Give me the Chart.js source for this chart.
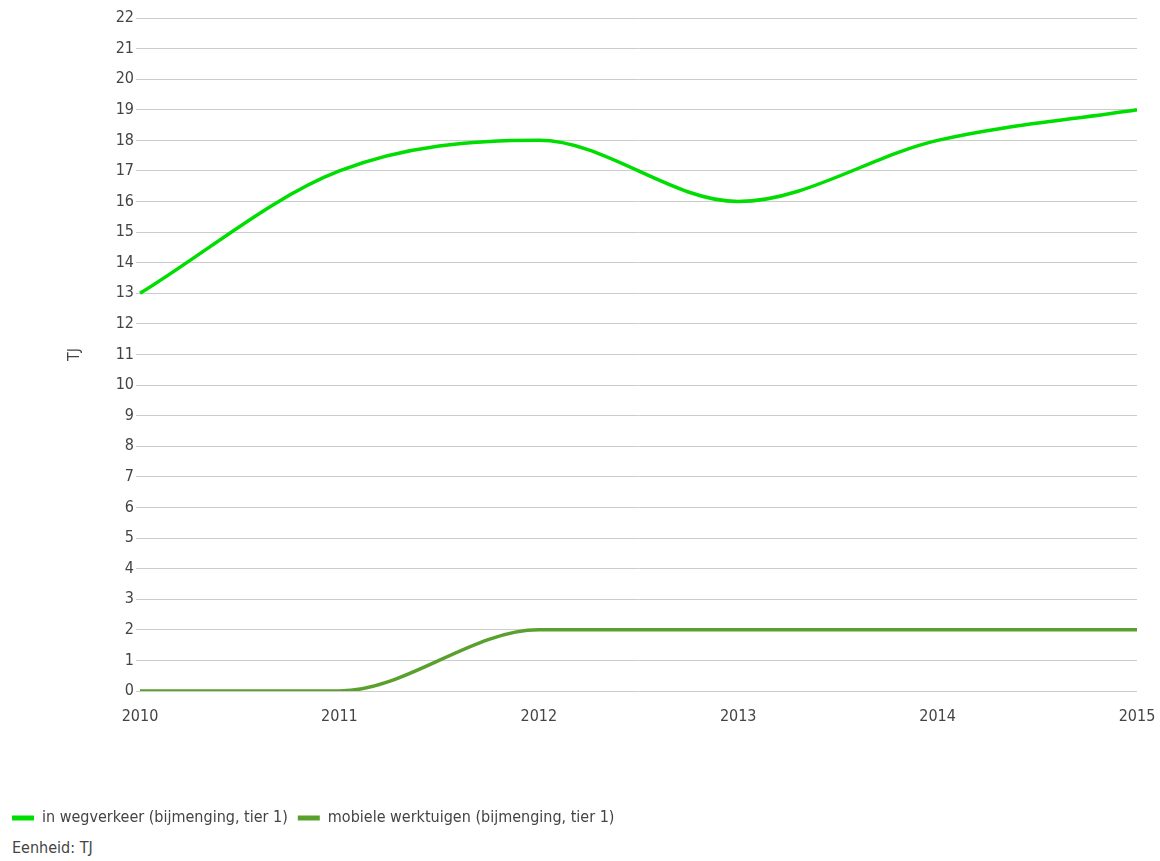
<!DOCTYPE html>
<html>
<head>
<meta charset="utf-8">
<script src="https://cdn.jsdelivr.net/npm/chart.js@4"></script>
<style>
  body { margin: 0; background: #fff; }
  #wrap { position: relative; width: 1160px; height: 836px; }
  #unit {
    position: absolute; left: 12px; top: 838px;
    font: 16px 'DejaVu Sans Condensed', sans-serif;
    color: #444;
  }
</style>
</head>
<body>
<div id="wrap"><canvas id="chart"></canvas></div>
<div id="unit">Eenheid: TJ</div>
<script>
const years = ['2010', '2011', '2012', '2013', '2014', '2015'];
const wegverkeer = [13, 17, 18, 16, 18, 19];
const werktuigen = [0, 0, 2, 2, 2, 2];
const seriesNames = [
    'in wegverkeer (bijmenging, tier 1)',
    'mobiele werktuigen (bijmenging, tier 1)',
];

Chart.defaults.font.family = "'DejaVu Sans Condensed', sans-serif";
Chart.defaults.font.size = 16;
Chart.defaults.color = '#444';

const data = {
    labels: years,
    datasets: [{
        label: seriesNames[0],
        data: wegverkeer,
        borderColor: '#00dd00',
        backgroundColor: '#00dd00',
    }, {
        label: seriesNames[1],
        data: werktuigen,
        borderColor: '#5aa02c',
        backgroundColor: '#5aa02c',
    }]
};

const config = {
    type: 'line',
    data: data,
    options: {
        responsive: true,
        maintainAspectRatio: false,
        animation: false,
        layout: { padding: { left: 2, right: 23, top: 18, bottom: 0 } },
        elements: {
            line: { borderWidth: 3.5, cubicInterpolationMode: 'monotone' },
            point: { radius: 0 }
        },
        scales: {
            x: {
                grid: { display: false, drawTicks: true, tickLength: 16 },
                border: { display: false },
                ticks: { padding: 0, maxRotation: 0 },
                afterFit: (s) => { s.height = 109; }
            },
            y: {
                min: 0,
                max: 22,
                ticks: { stepSize: 1, padding: 2 },
                grid: { color: '#cccccc', tickLength: 4 },
                border: { display: false },
                title: { display: true, text: 'TJ', font: { size: 16 }, padding: { top: 63, bottom: 0 } },
                afterFit: (s) => { s.width = 138; }
            }
        },
        plugins: {
            legend: {
                position: 'bottom',
                align: 'start',
                labels: {
                    boxWidth: 22,
                    boxHeight: 5,
                    padding: 10,
                    generateLabels: (chart) =>
                        Chart.defaults.plugins.legend.labels.generateLabels(chart)
                            .map(l => ({ ...l, lineWidth: 0 }))
                }
            },
            tooltip: { enabled: false }
        }
    },
};

const myChart = new Chart(document.getElementById('chart'), config);
</script>
</body>
</html>
